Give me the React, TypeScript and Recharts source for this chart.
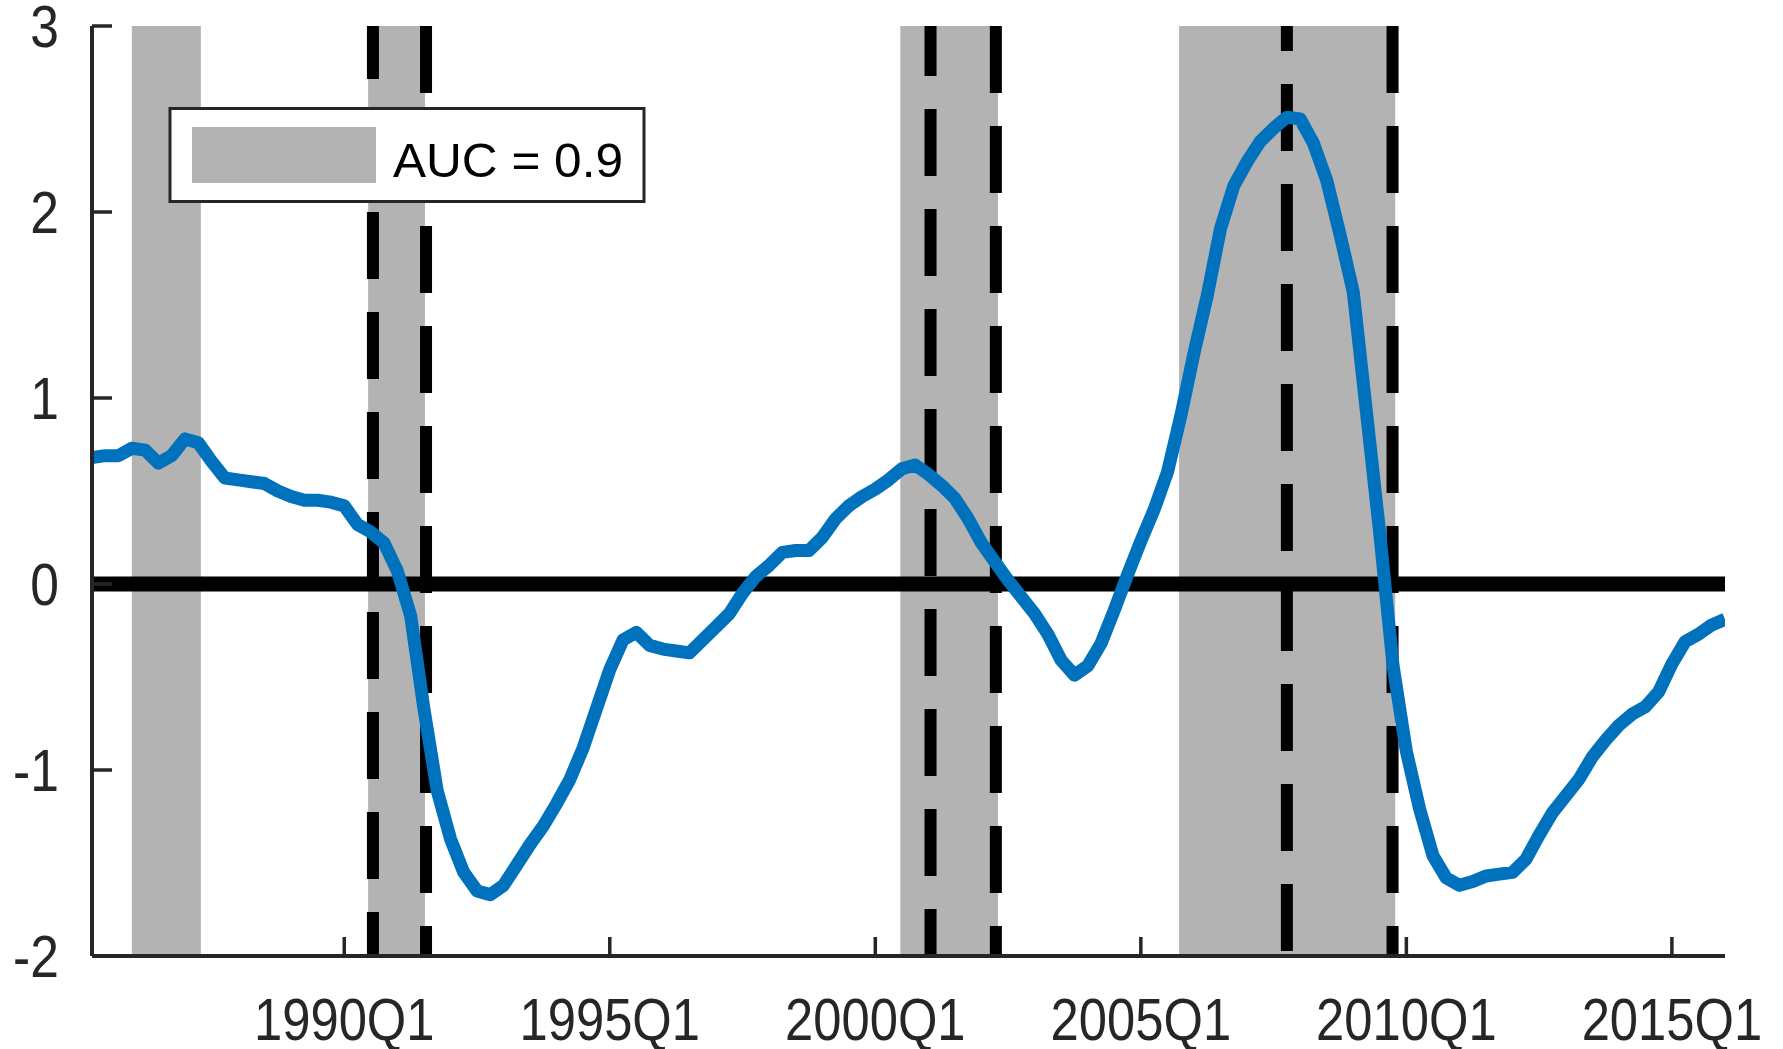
import { LineChart, Line, XAxis, YAxis, ReferenceArea, ReferenceLine } from 'recharts';

// quarterly series, first point is 1985Q2
const firstQuarter = 1985.25;
const gapValues = [
  0.68, 0.69, 0.69, // 1985
  0.73, 0.72, 0.65, 0.69, // 1986
  0.78, 0.76, 0.66, 0.57, // 1987
  0.56, 0.55, 0.54, 0.5, // 1988
  0.47, 0.45, 0.45, 0.44, // 1989
  0.42, 0.32, 0.28, 0.22, // 1990
  0.07, -0.17, -0.67, -1.11, // 1991
  -1.37, -1.55, -1.65, -1.67, // 1992
  -1.62, -1.51, -1.4, -1.3, // 1993
  -1.18, -1.05, -0.88, -0.67, // 1994
  -0.46, -0.3, -0.26, -0.33, // 1995
  -0.35, -0.36, -0.37, -0.3, // 1996
  -0.23, -0.16, -0.05, 0.04, // 1997
  0.1, 0.17, 0.18, 0.18, // 1998
  0.25, 0.35, 0.42, 0.47, // 1999
  0.51, 0.56, 0.62, 0.64, // 2000
  0.59, 0.53, 0.46, 0.35, // 2001
  0.22, 0.12, 0.02, -0.07, // 2002
  -0.16, -0.27, -0.41, -0.49, // 2003
  -0.44, -0.32, -0.14, 0.05, // 2004
  0.23, 0.4, 0.6, 0.9, // 2005
  1.24, 1.55, 1.91, 2.14, // 2006
  2.27, 2.38, 2.45, 2.51, // 2007
  2.5, 2.37, 2.17, 1.88, // 2008
  1.57, 0.92, 0.27, -0.44, // 2009
  -0.9, -1.21, -1.46, -1.58, // 2010
  -1.62, -1.6, -1.57, -1.56, // 2011
  -1.55, -1.48, -1.35, -1.23, // 2012
  -1.14, -1.05, -0.93, -0.84, // 2013
  -0.76, -0.7, -0.66, -0.58, // 2014
  -0.43, -0.31, -0.27, -0.22, // 2015
  -0.19, // 2016
];

const xTicks = [1990, 1995, 2000, 2005, 2010, 2015];
const xTickLabels = ['1990Q1', '1995Q1', '2000Q1', '2005Q1', '2010Q1', '2015Q1'];
const yTicks = [-2, -1, 0, 1, 2, 3];

// shaded periods
const shadeStart = [1986.0, 1990.45, 2000.47, 2005.72];
const shadeEnd = [1987.3, 1991.52, 2002.31, 2009.79];

// dashed vertical markers
const crisisLines = [1990.54, 1991.54, 2001.04, 2002.27, 2007.75, 2009.74];
const dashPhase = [14, 0, 17, 0, 42, 0];

const legendLabel = 'AUC = 0.9';

const data = gapValues.map((v, i) => ({ t: firstQuarter + i * 0.25, v }));

const AXIS = '#262626';
const GREY = '#b3b3b3';
const BLUE = '#0072bd';
const FONT = '"Liberation Sans", Arial, sans-serif';

const YTick = ({ x, y, payload }: any) => (
  <g>
    <line x1={x} x2={x + 20} y1={y} y2={y} stroke={AXIS} strokeWidth={3.5} />
    <text
      transform={`translate(${x - 33},${y + 21}) scale(0.86,1)`}
      textAnchor="end"
      fontFamily={FONT}
      fontSize={60}
      fill={AXIS}
    >
      {payload.value}
    </text>
  </g>
);

const XTick = ({ x, y, payload }: any) => {
  const idx = xTicks.indexOf(payload.value);
  return (
    <g>
      <line x1={x} x2={x} y1={y} y2={y - 19} stroke={AXIS} strokeWidth={3.5} />
      <text
        transform={`translate(${x},${y + 84}) scale(0.86,1)`}
        textAnchor="middle"
        fontFamily={FONT}
        fontSize={59}
        fill={AXIS}
      >
        {xTickLabels[idx]}
      </text>
    </g>
  );
};

const dashedShape = (phase: number) => (props: any) => {
  const top = Math.min(props.y1, props.y2);
  const bottom = Math.max(props.y1, props.y2);
  return (
    <line
      x1={props.x1}
      x2={props.x2}
      y1={top}
      y2={bottom}
      stroke="#000"
      strokeWidth={12}
      strokeDasharray="67 33"
      strokeDashoffset={phase}
    />
  );
};

const App = () => {
  return (
    <div style={{ position: 'absolute', left: 0, top: 0, width: 1783, height: 1049, overflow: 'hidden', background: '#fff' }}>
      <LineChart
        width={1783}
        height={1049}
        data={data}
        margin={{ top: 26, right: 58, bottom: 0, left: 0 }}
      >
        <XAxis
          dataKey="t"
          type="number"
          domain={[1985.25, 2016]}
          ticks={xTicks}
          height={93}
          tickSize={0}
          tickMargin={0}
          tickLine={false}
          axisLine={{ stroke: AXIS, strokeWidth: 4 }}
          tick={<XTick />}
          interval={0}
          allowDataOverflow
        />
        <YAxis
          type="number"
          domain={[-2, 3]}
          ticks={yTicks}
          width={92}
          tickSize={0}
          tickMargin={0}
          tickLine={false}
          axisLine={{ stroke: AXIS, strokeWidth: 4 }}
          tick={<YTick />}
          interval={0}
          allowDataOverflow
        />
        {shadeStart.map((s, i) => (
          <ReferenceArea
            key={`shade-${i}`}
            x1={s}
            x2={shadeEnd[i]}
            fill={GREY}
            fillOpacity={1}
            stroke="none"
          />
        ))}
        <ReferenceLine y={0} stroke="#000" strokeWidth={15} />
        {crisisLines.map((c, i) => (
          <ReferenceLine key={`crisis-${i}`} x={c} shape={dashedShape(dashPhase[i])} />
        ))}
        <Line
          type="linear"
          dataKey="v"
          stroke={BLUE}
          strokeWidth={13}
          strokeLinejoin="round"
          dot={false}
          activeDot={false}
          isAnimationActive={false}
        />
      </LineChart>
      {/* legend box drawn on top of the plot */}
      <svg
        width={1783}
        height={1049}
        style={{ position: 'absolute', left: 0, top: 0, pointerEvents: 'none' }}
      >
        <rect x={170} y={108.5} width={474} height={93} fill="#fff" stroke={AXIS} strokeWidth={3} />
        <rect x={192} y={127} width={184} height={56} fill={GREY} />
        <text
          x={393}
          y={177}
          fontFamily={FONT}
          fontSize={49}
          fill="#000"
          textLength={230}
          lengthAdjust="spacingAndGlyphs"
        >
          {legendLabel}
        </text>
      </svg>
    </div>
  );
};

export default App;
